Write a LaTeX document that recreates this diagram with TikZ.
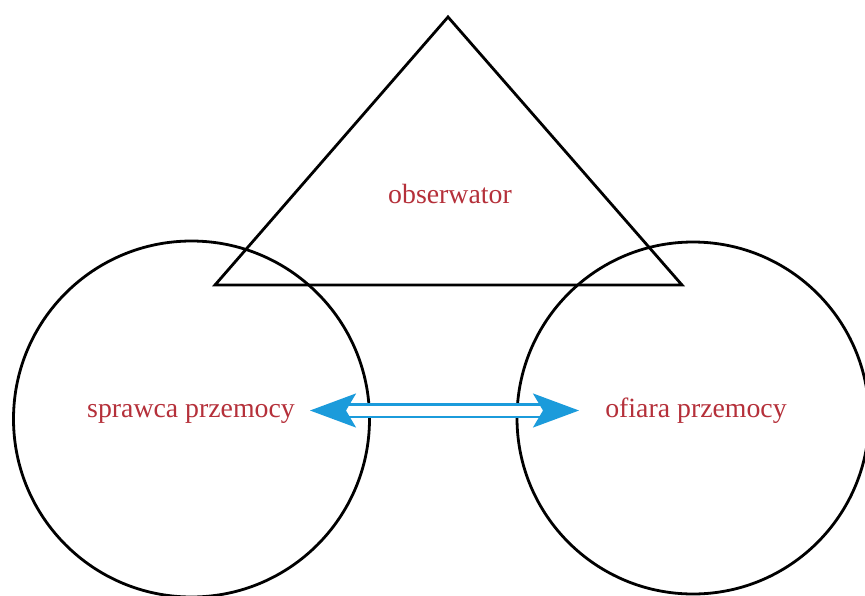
\documentclass[tikz,border=0pt]{standalone}
\usepackage{fontspec}
\setmainfont{Liberation Serif}
\usetikzlibrary{arrows.meta}
\definecolor{labred}{RGB}{181,48,58}
\definecolor{arrowblue}{RGB}{27,155,219}
\begin{document}
\begin{tikzpicture}[x=1pt,y=-1pt,
  outline/.style={draw=black,line width=2.8pt},
  ring/.style={outline,circle,minimum size=#1,inner sep=0pt},
  lab/.style={text=labred,font=\fontsize{27.8}{33}\selectfont,anchor=base,inner sep=0pt},
  link/.style={draw=arrowblue,line width=2.2pt,double=white,double distance=10pt,
    {Stealth[length=46pt,width=34pt,inset=10pt,fill=arrowblue]}-{Stealth[length=46pt,width=34pt,inset=10pt,fill=arrowblue]}}
]
\useasboundingbox (0,0) rectangle (865,595);
\fill[white] (0,0) rectangle (865,595);
% triangle
\coordinate (apex) at (448,17);
\coordinate (bl) at (215,285);
\coordinate (br) at (682,285);
\draw[outline,line join=miter] (apex) -- (bl) -- (br) -- cycle;
% circles
\node[ring=356pt] (cl) at (191.5,419) {};
\node[ring=352pt] (cr) at (693,418) {};
% labels
\node[lab] (obs) at (450,203) {obserwator};
\node[lab] (spr) at (191,417) {sprawca przemocy};
\node[lab] (ofi) at (696,417) {ofiara przemocy};
% arrow
\coordinate (aL) at (310,410.5);
\coordinate (aR) at (579,410.5);
\draw[link] (aL) -- (aR);
\end{tikzpicture}
\end{document}
